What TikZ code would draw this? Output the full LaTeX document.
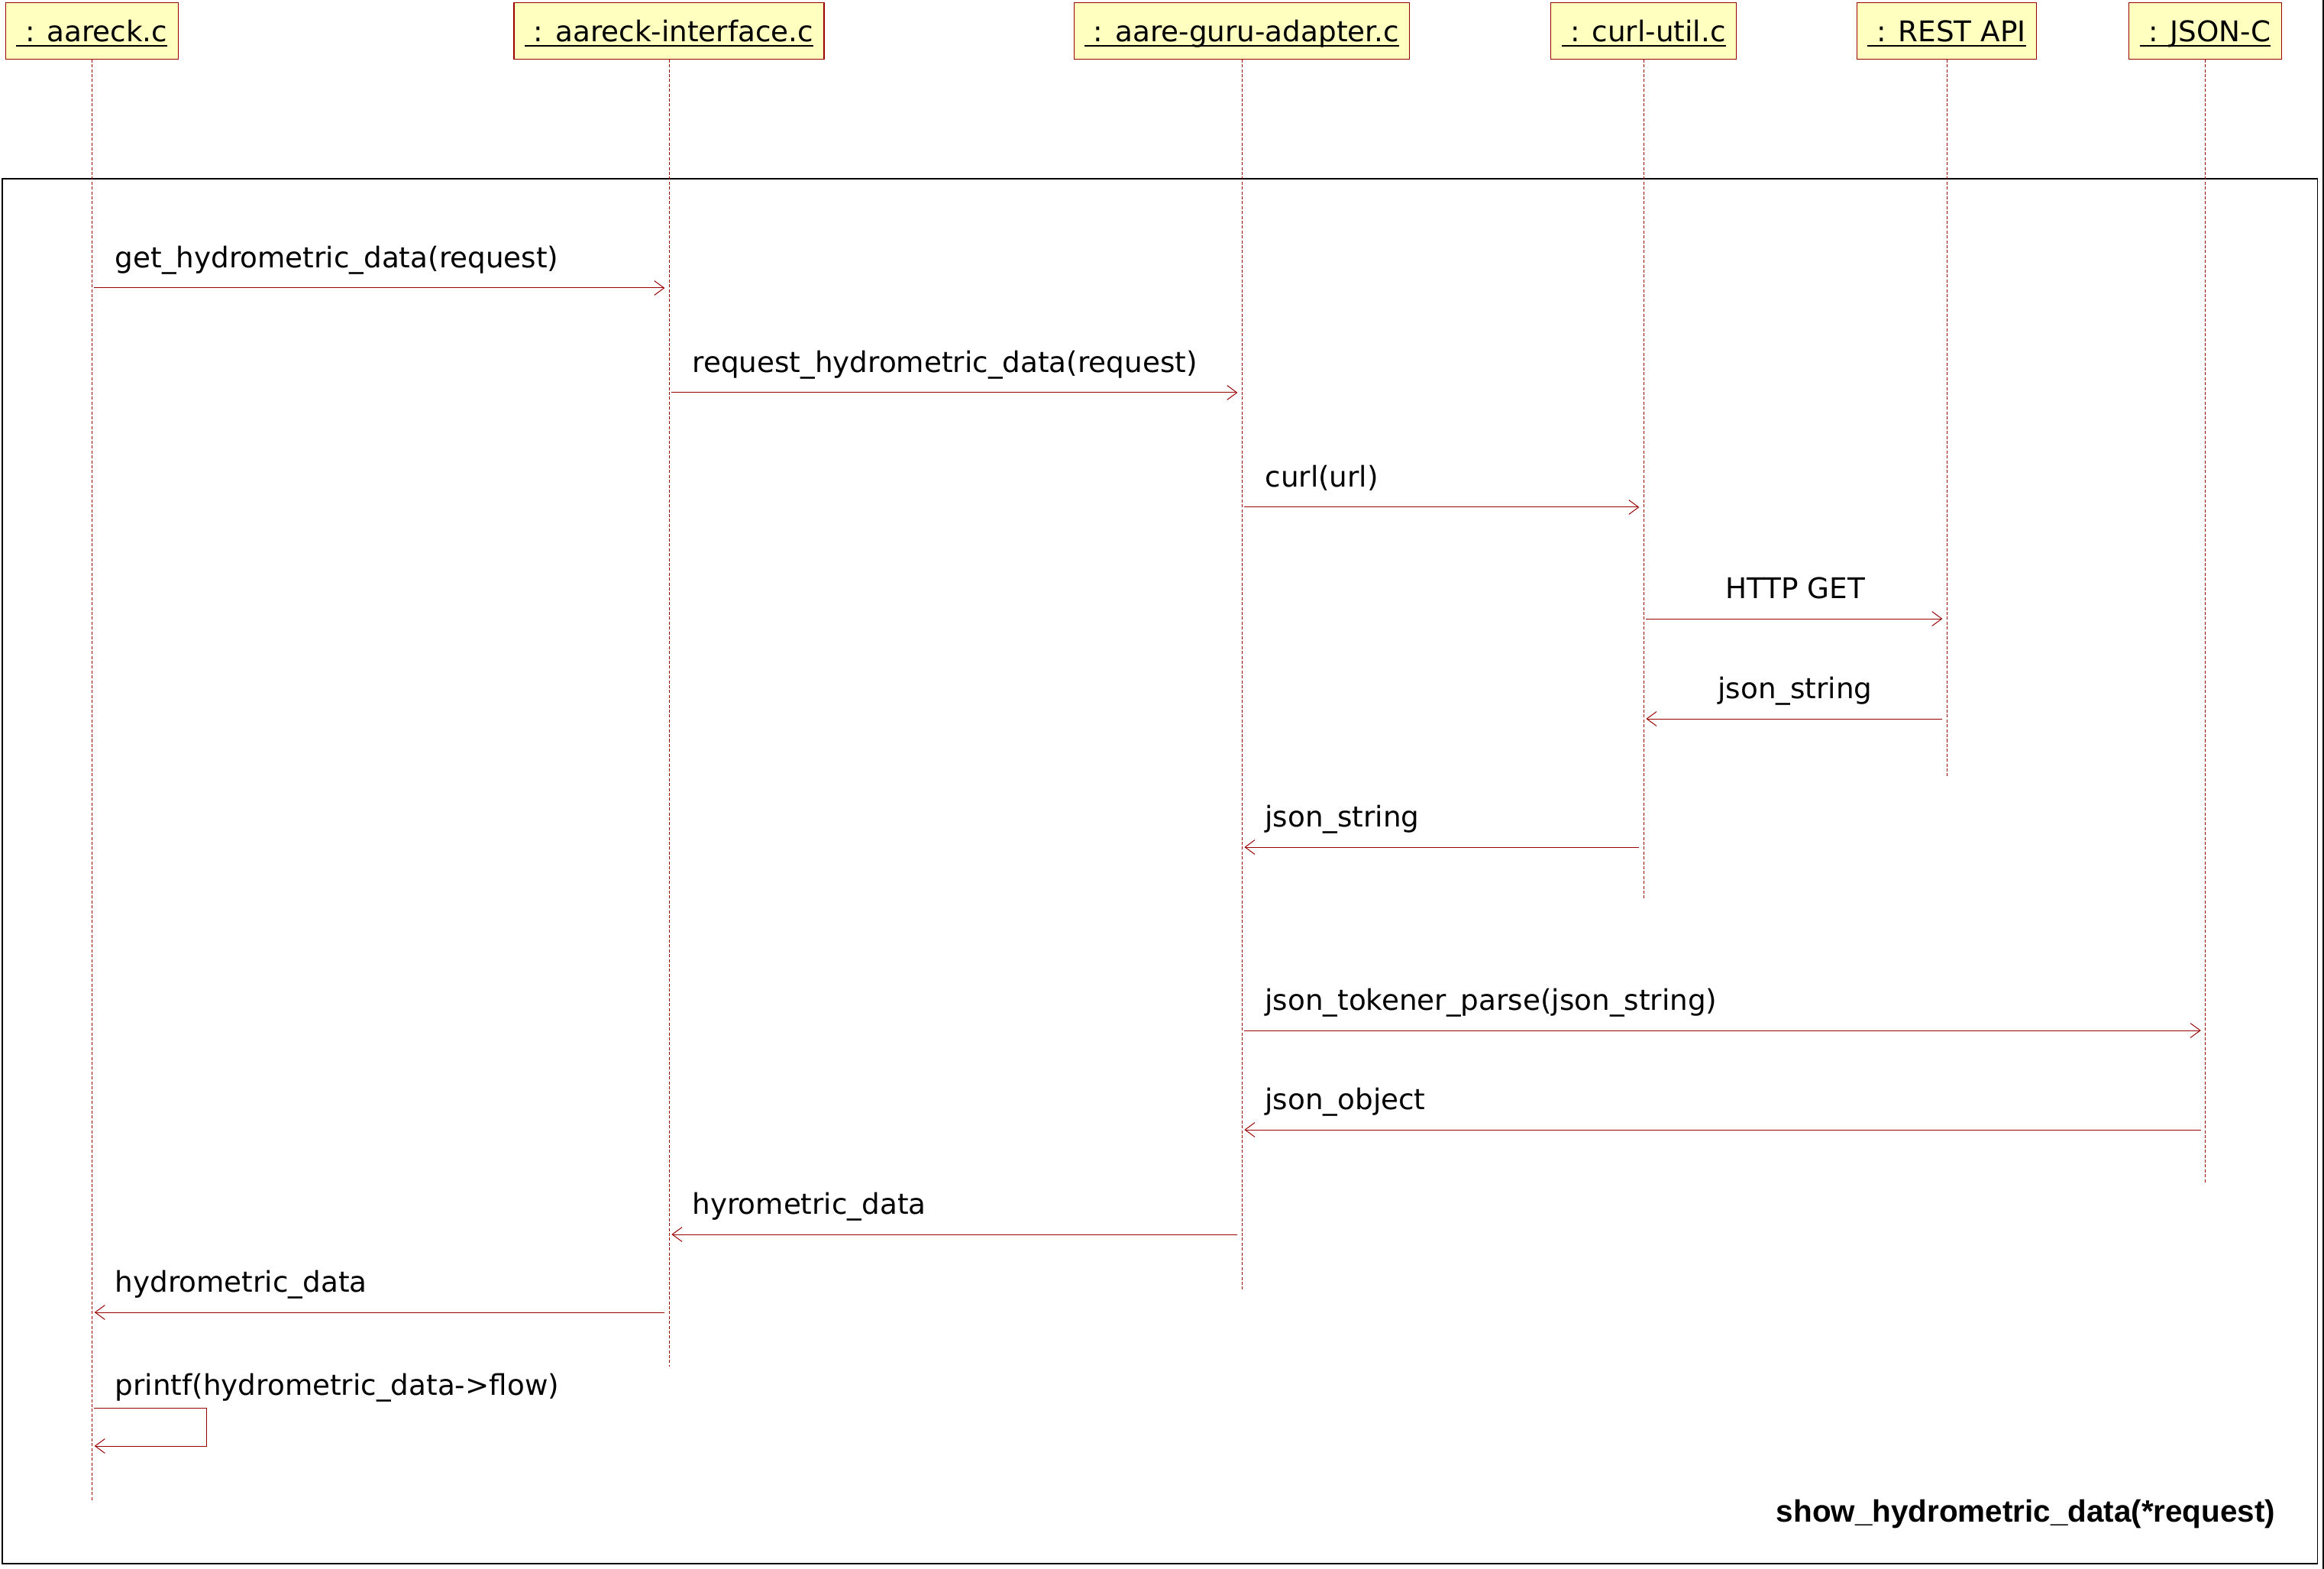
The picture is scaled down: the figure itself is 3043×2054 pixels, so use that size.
\documentclass[tikz,border=0pt]{standalone}
\usepackage{fontspec}
\setmainfont{DejaVu Sans}
\newfontfamily\titlefont{Liberation Sans}
\usepackage{xcolor}
\usetikzlibrary{arrows.meta}
\definecolor{umlred}{RGB}{153,0,0}
\definecolor{umlfill}{RGB}{255,255,192}

\begin{document}
\begin{tikzpicture}[x=0.25pt, y=-0.25pt,
    obj/.style={draw=umlred, line width=0.3pt, fill=umlfill, inner xsep=3.5pt, inner ysep=0pt,
        minimum height=18.5pt, text height=7pt, text depth=0pt,
        font=\fontsize{9.33pt}{11pt}\selectfont},
    life/.style={umlred, line width=0.25pt, dash pattern=on 1pt off 0.6pt},
    msg/.style={umlred, line width=0.25pt, -{Straight Barb[length=3.2pt, width=4.7pt]},
        shorten <=0.75pt, shorten >=1.4pt},
    ret/.style={msg, shorten <=1.4pt, shorten >=0.85pt},
    txt/.style={black, inner sep=0pt, font=\fontsize{9.33pt}{11pt}\selectfont},
    lbl/.style={txt, anchor=base west, xshift=7.5pt, yshift=6.6pt},
    mid/.style={txt, anchor=base, yshift=6.6pt}]
    \useasboundingbox (0,0) rectangle (3043,2054);

    \draw[line width=0.4pt] (3,234) rectangle (3034.5,2047);
    \fill (3040.7,0) rectangle (3043,2054);

    \node[obj] (A) at (120.3,40.3) {\underline{\smash{\ : aareck.c}}};
    \node[obj] (I) at (876,40.3)   {\underline{\smash{\ : aareck-interface.c}}};
    \node[obj] (G) at (1626,40.3)  {\underline{\smash{\ : aare-guru-adapter.c}}};
    \node[obj] (C) at (2152,40.3)  {\underline{\smash{\ : curl-util.c}}};
    \node[obj] (R) at (2549,40.3)  {\underline{\smash{\ : REST API}}};
    \node[obj] (J) at (2887.4,40.3) {\underline{\smash{\ : JSON-C}}};

    \draw[life] (A.south) -- (A |- 0,1965);
    \draw[life] (I.south) -- (I |- 0,1789);
    \draw[life] (G.south) -- (G |- 0,1688);
    \draw[life] (C.south) -- (C |- 0,1178);
    \draw[life] (R.south) -- (R |- 0,1016);
    \draw[life] (J.south) -- (J |- 0,1549);

    \draw[msg] (A |- 0,377) -- (I |- 0,377) node[lbl, at start] (m1) {get\_hydrometric\_data(request)};
    \draw[msg] (I |- 0,514) -- (G |- 0,514) node[lbl, at start] (m2) {request\_hydrometric\_data(request)};
    \draw[msg] (G |- 0,664) -- (C |- 0,664) node[lbl, at start] (m3) {curl(url)};
    \draw[msg] (C |- 0,810) -- (R |- 0,810) node[mid, midway] (m4) {HTTP GET};
    \draw[ret] (R |- 0,941) -- (C |- 0,941) node[mid, midway] (m5) {json\_string};
    \draw[ret] (C |- 0,1109) -- (G |- 0,1109) node[lbl, at end] (m6) {json\_string};
    \draw[msg] (G |- 0,1349) -- (J |- 0,1349) node[lbl, at start] (m7) {json\_tokener\_parse(json\_string)};
    \draw[ret] (J |- 0,1479) -- (G |- 0,1479) node[lbl, at end] (m8) {json\_object};
    \draw[ret] (G |- 0,1616) -- (I |- 0,1616) node[lbl, at end] (m9) {hyrometric\_data};
    \draw[ret] (I |- 0,1718) -- (A |- 0,1718) node[lbl, at end] (m10) {hydrometric\_data};
    \draw[msg, shorten >=0.85pt] (A |- 0,1843)
        node[txt, anchor=base west, xshift=7.5pt, yshift=4.25pt] (m11) {printf(hydrometric\_data->flow)}
        -- ++(150,0) |- (A |- 0,1893);

    \node[anchor=base east, inner sep=0pt, font=\titlefont\bfseries\fontsize{10.1pt}{12pt}\selectfont]
        (title) at (2980,1992) {show\_hydrometric\_data(*request)};
\end{tikzpicture}
\end{document}
